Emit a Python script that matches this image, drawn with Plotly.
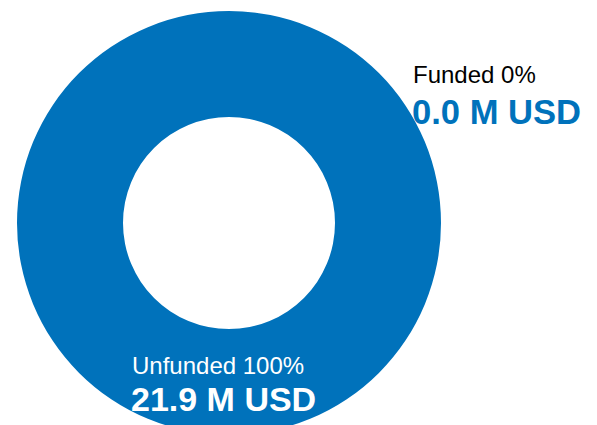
import plotly.graph_objects as go

labels = ["Funded", "Unfunded"]
percents = [0, 100]
amounts_musd = [0.0, 21.9]
colors = ["#0072BB", "#0072BB"]

W, H = 597, 436

fig = go.Figure()
fig.add_trace(go.Pie(
    labels=labels,
    values=amounts_musd,
    hole=0.5,
    sort=False,
    direction="clockwise",
    rotation=0,
    marker=dict(colors=colors, line=dict(width=0)),
    textinfo="none",
    hoverinfo="label+value",
    showlegend=False,
    domain=dict(x=[17 / W, 441 / W], y=[(H - 435) / H, (H - 11) / H]),
))

# label box positions (pixels from top-left) and styles
title_pos = [(411, 59), (129.5, 350)]
value_pos = [(410, 91), (129, 378)]
title_colors = ["#000000", "#FFFFFF"]
value_colors = ["#0072BB", "#FFFFFF"]
value_sizes = [34.6, 34]

for i in range(len(labels)):
    fig.add_annotation(
        x=title_pos[i][0] / W, y=1 - title_pos[i][1] / H, xref="paper", yref="paper",
        xanchor="left", yanchor="top",
        text=f"{labels[i]} {percents[i]}%", showarrow=False,
        font=dict(family="Liberation Sans, Arial, sans-serif", size=24, color=title_colors[i]),
    )
    fig.add_annotation(
        x=value_pos[i][0] / W, y=1 - value_pos[i][1] / H, xref="paper", yref="paper",
        xanchor="left", yanchor="top",
        text=f"<b>{amounts_musd[i]:.1f} M USD</b>", showarrow=False,
        font=dict(family="Liberation Sans, Arial, sans-serif", size=value_sizes[i], color=value_colors[i]),
    )

fig.update_layout(
    width=W, height=H,
    margin=dict(l=0, r=0, t=0, b=0),
    paper_bgcolor="white",
    plot_bgcolor="white",
)

fig.write_html(
    "out.html",
    config={"displayModeBar": False},
    post_script="document.body.style.margin='0';document.body.style.overflow='hidden';",
)
